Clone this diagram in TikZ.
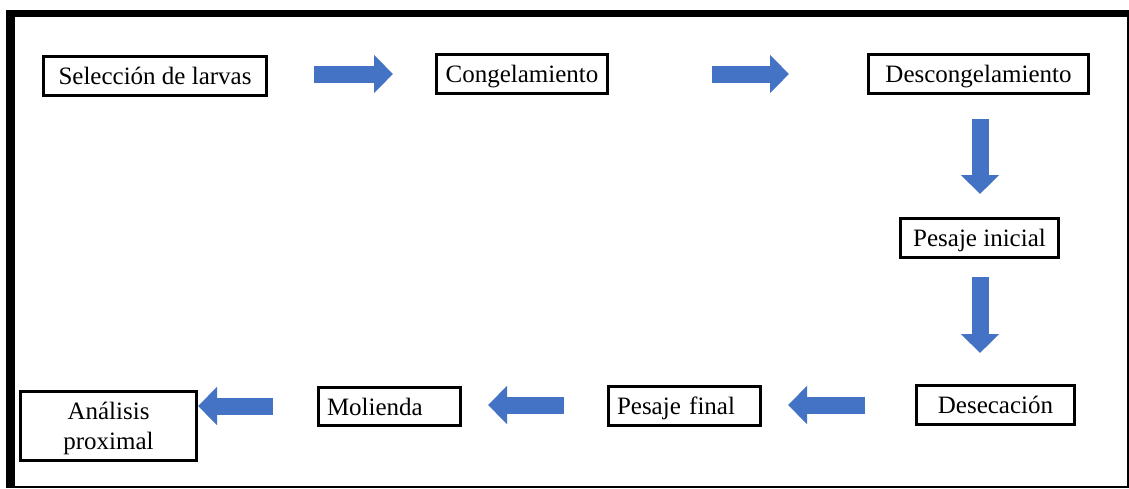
\documentclass[tikz,border=0pt]{standalone}
\usepackage{fontspec}
\setmainfont[Ligatures=NoCommon]{Liberation Serif}
\usetikzlibrary{arrows.meta}
\definecolor{arrblue}{HTML}{4472C4}
\begin{document}
\begin{tikzpicture}[x=1pt,y=-1pt,
  box/.style={draw=black, line width=2.6pt, inner sep=0pt, text height=22pt, text depth=5pt, font=\fontsize{25}{29}\selectfont},
  leftbox/.style={box, inner xsep=8.7pt, align=left},
  flow/.style={line width=17pt, draw=arrblue, -{Triangle[width=37pt,length=19pt]}}]
\useasboundingbox (0,0) rectangle (1129,488);
\fill[white] (0,0) rectangle (1129,488);
% frame
\fill[black] (6,10) rectangle (1129,17);
\fill[black] (6,10) rectangle (15,487.5);
\fill[black] (6,485.5) rectangle (1129,487.5);
\fill[black] (1126.5,10) rectangle (1128.5,487.5);
% boxes
\node[box, minimum width=223.4pt, minimum height=39.4pt] (sel) at (155,76) {Selección de larvas};
\node[box, minimum width=171.4pt, minimum height=39.4pt] (cong) at (522,74) {Congelamiento};
\node[box, minimum width=220.4pt, minimum height=39.4pt] (desc) at (978.5,74) {Descongelamiento};
\node[box, minimum width=158.4pt, minimum height=39.4pt] (pini) at (979.5,238) {Pesaje inicial};
\node[box, minimum width=158.4pt, minimum height=39.4pt] (dese) at (995.5,405) {Desecación};
\node[leftbox, text width=135pt, minimum height=39.4pt] (pfin) at (684.5,406) {Pesaje final};
\node[leftbox, text width=125pt, minimum height=38.4pt] (mol) at (389.5,406.5) {Molienda};
\node[draw=black, line width=2.6pt, minimum width=176.4pt, minimum height=69.4pt] (ana) at (108.5,426) {};
\node[align=center, inner sep=0pt, font=\fontsize{25}{30}\selectfont] (anatext) at (108.5,428.5) {Análisis\\proximal};
% arrows
\coordinate (a1s) at (314,74);  \coordinate (a1e) at (393,74);
\coordinate (a2s) at (712,74);  \coordinate (a2e) at (789,74);
\coordinate (a3s) at (980,119); \coordinate (a3e) at (980,194);
\coordinate (a4s) at (980,277); \coordinate (a4e) at (980,353);
\coordinate (a5s) at (865,405); \coordinate (a5e) at (788,405);
\coordinate (a6s) at (564,405); \coordinate (a6e) at (488,405);
\coordinate (a7s) at (273,406); \coordinate (a7e) at (198,406);
\draw[flow] (a1s) -- (a1e);
\draw[flow] (a2s) -- (a2e);
\draw[flow] (a3s) -- (a3e);
\draw[flow] (a4s) -- (a4e);
\draw[flow] (a5s) -- (a5e);
\draw[flow] (a6s) -- (a6e);
\draw[flow] (a7s) -- (a7e);
\end{tikzpicture}
\end{document}
